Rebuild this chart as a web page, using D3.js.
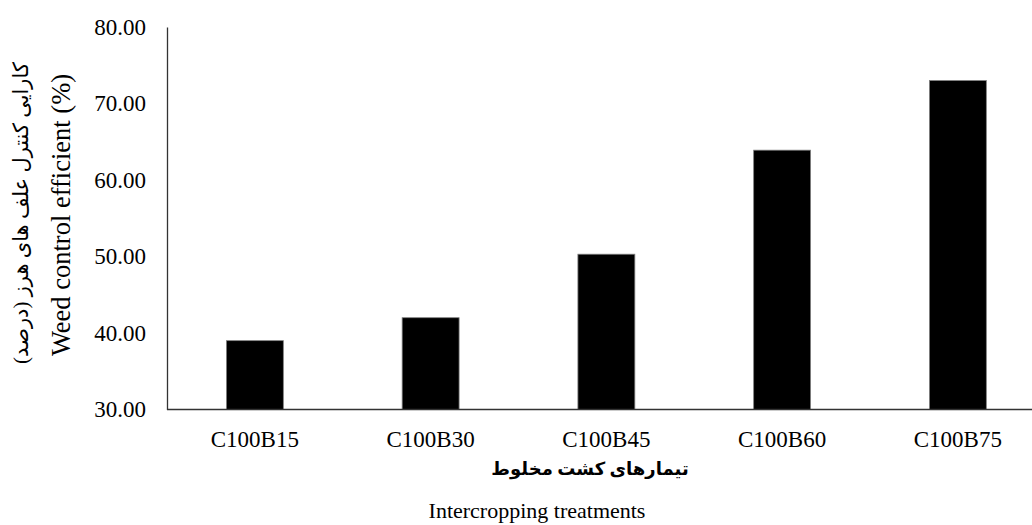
<!DOCTYPE html>
<html>
<head>
<meta charset="utf-8">
<script src="https://cdn.jsdelivr.net/npm/d3@7/dist/d3.min.js"></script>
<style>
  html, body { margin: 0; padding: 0; background: #fff; }
  svg { display: block; }
  text { font-family: "Liberation Serif", "Times New Roman", serif; fill: #000; }
  .fa { font-family: "Liberation Serif", "DejaVu Sans", serif; }
</style>
</head>
<body>
<svg id="chart" width="1032" height="525"></svg>
<script>
const categories = ["C100B15", "C100B30", "C100B45", "C100B60", "C100B75"];
const values = [39.0, 42.0, 50.3, 63.9, 73.0];
const yTicks = [30, 40, 50, 60, 70, 80];
const yTitleEn = "Weed control efficient (%)";
const yTitleFa = "کارایی کنترل علف های هرز (درصد)";
const xTitleFa = "تیمارهای کشت مخلوط";
const xTitleEn = "Intercropping treatments";

(function () {
const svg = d3.select("#chart");
const mLeft = 167, mTop = 27, mBottom = 409.5, mRight = 1045.75;

const x = d3.scaleBand().domain(categories).range([mLeft, mRight])
  .paddingInner(0.676).paddingOuter(0.338);
const y = d3.scaleLinear().domain([30, 80]).range([mBottom, mTop]);

// bars
svg.append("g").selectAll("rect").data(values).join("rect")
  .attr("x", (d, i) => x(categories[i]))
  .attr("y", d => y(d))
  .attr("width", x.bandwidth())
  .attr("height", d => y(30) - y(d))
  .attr("fill", "#000")
  .attr("stroke", "#808080")
  .attr("stroke-width", 0.8);

// y axis
const yAxis = d3.axisLeft(y).tickValues(yTicks).tickSize(0).tickPadding(21)
  .tickFormat(d3.format(".2f"));
const gy = svg.append("g").attr("transform", `translate(${mLeft},0)`).call(yAxis);
gy.select(".domain").attr("stroke", "#333").attr("stroke-width", 1.3);
gy.selectAll("text").style("font-size", "23px").style("font-family", "Liberation Serif, serif").attr("fill", "#000");

// x axis
const xAxis = d3.axisBottom(x).tickSize(0).tickPadding(21);
const gx = svg.append("g").attr("transform", `translate(0,${mBottom})`).call(xAxis);
gx.select(".domain").attr("d", `M${mLeft},0H1032`).attr("stroke", "#333").attr("stroke-width", 1.3);
gx.selectAll("text").style("font-size", "23px").style("font-family", "Liberation Serif, serif").attr("fill", "#000");

// x titles
svg.append("text").attr("class", "fa")
  .attr("x", 590).attr("y", 475)
  .attr("text-anchor", "middle")
  .attr("direction", "rtl")
  .style("font-size", "18px").style("font-weight", "bold")
  .text(xTitleFa);
svg.append("text")
  .attr("x", 537).attr("y", 518)
  .attr("text-anchor", "middle")
  .style("font-size", "22px")
  .text(xTitleEn);

// y titles
svg.append("text")
  .attr("transform", "translate(70,215) rotate(-90)")
  .attr("text-anchor", "middle")
  .style("font-size", "26.5px")
  .text(yTitleEn);
svg.append("text").attr("class", "fa")
  .attr("transform", "translate(28,213) rotate(-90)")
  .attr("text-anchor", "middle")
  .attr("direction", "rtl")
  .style("font-size", "21px")
  .text(yTitleFa);
})();
</script>
</body>
</html>
